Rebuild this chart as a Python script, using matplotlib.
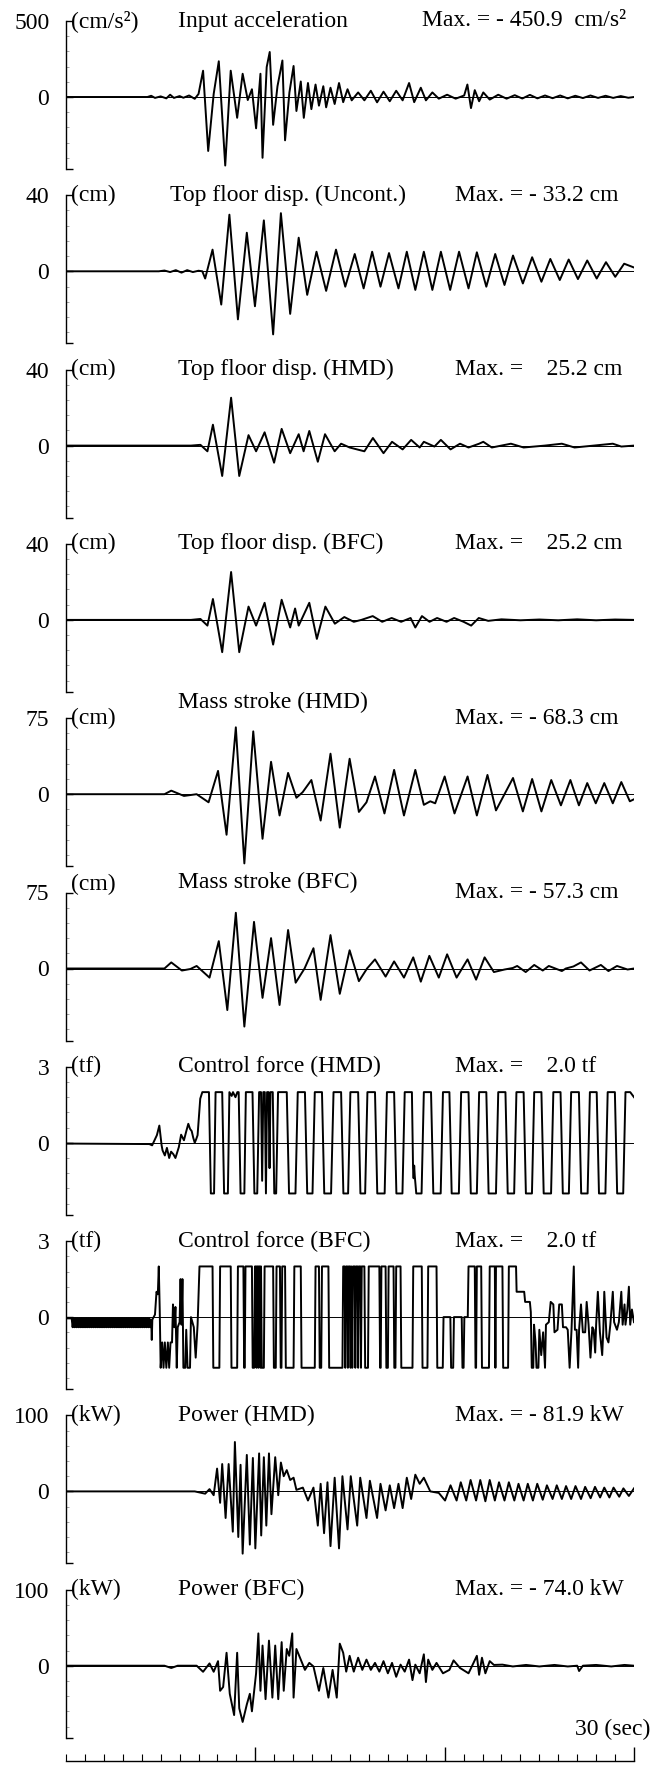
import matplotlib.pyplot as plt
from matplotlib.ticker import MultipleLocator

plt.rcParams['font.family'] = ['Liberation Serif', 'DejaVu Serif']

W, H = 657, 1773

# -------------------------------
# DATA (time in s)
# -------------------------------
t_acc = [0, 4.3, 4.5, 4.7, 5.0, 5.3, 5.5, 5.7, 6.0, 6.2,
         6.5, 6.8, 7.0, 7.24, 7.51, 7.8, 8.07, 8.41, 8.7, 9.04,
         9.33, 9.6, 9.82, 10.04, 10.27, 10.38, 10.6, 10.76, 10.94, 11.17,
         11.43, 11.57, 11.8, 12.02, 12.17, 12.4, 12.56, 12.78, 12.96, 13.18,
         13.36, 13.59, 13.74, 13.97, 14.19, 14.42, 14.64, 14.87, 15.09, 15.43,
         15.76, 16.1, 16.43, 16.77, 17.1, 17.44, 17.78, 18.12, 18.39, 18.74,
         19.01, 19.35, 19.69, 20.13, 20.58, 21.03, 21.2, 21.39, 21.59, 21.82,
         22.04, 22.38, 22.83, 23.27, 23.7, 24.1, 24.5, 24.9, 25.3, 25.7,
         26.1, 26.5, 26.9, 27.3, 27.7, 28.1, 28.5, 28.9, 29.3, 29.7, 30]
a_acc = [0, 0, 8, -6, 4, -9, 15, -6, 6, -5,
         10, -12, 20, 173, -355, 20, 235, -450.9, 173, -137,
         153, -20, 51, -206, 153, -400, 197, 296, -183, 71,
         240, -285, 30, 204, -92, 102, -137, 92, -80, 82,
         -57, 71, -68, 61, -46, 92, -34, 51, -22, 30,
         -22, 41, -35, 35, -28, 41, -22, 92, -34, 61,
         -22, 30, -11, 15, -11, 10, 82, -73, 45, -28,
         30, -17, 15, -11, 12, -10, 14, -9, 10, -8,
         10, -9, 8, -7, 10, -6, 8, -6, 6, -5, 0]

t_unc = [0, 4.9, 5.2, 5.5, 5.8, 6.1, 6.4, 6.7, 7.0, 7.2,
         7.35, 7.74, 8.2, 8.63, 9.08, 9.55, 9.98, 10.45, 10.94, 11.35,
         11.84, 12.29, 12.74, 13.23, 13.74, 14.26, 14.75, 15.25, 15.72, 16.17,
         16.61, 17.06, 17.56, 18.0, 18.45, 18.9, 19.35, 19.8, 20.29, 20.76,
         21.26, 21.7, 22.2, 22.67, 23.16, 23.61, 24.13, 24.62, 25.11, 25.58,
         26.08, 26.55, 27.04, 27.53, 28.03, 28.52, 29.01, 29.48, 30]
d_unc = [0, 0, 0.4, -0.4, 0.6, -0.7, 0.6, -0.4, 0.3, 0,
         -3.8, 11.4, -17.5, 29.8, -25.3, 20.3, -18.4, 26.8, -33.2, 30.6,
         -22.4, 17.7, -12.4, 10.3, -10.3, 11.4, -8.1, 9.1, -9.0, 10.3,
         -8.1, 9.6, -9.0, 10.3, -9.8, 10.3, -9.8, 10.3, -9.8, 10.3,
         -9.0, 10.0, -8.1, 9.1, -7.2, 8.3, -6.4, 7.4, -5.5, 6.5,
         -4.6, 6.2, -4.1, 5.7, -3.8, 4.8, -2.9, 4.0, 2.0]

t_dhmd = [0, 6.6, 7.1, 7.47, 7.76, 8.25, 8.72, 9.15, 9.64, 10.04,
          10.49, 10.99, 11.39, 11.84, 12.29, 12.55, 12.85, 13.3, 13.68, 14.19,
          14.53, 14.98, 15.76, 16.21, 16.77, 17.22, 17.78, 18.23, 18.68, 18.9,
          19.46, 19.8, 20.31, 20.81, 21.26, 21.82, 22.04, 22.49, 23.5, 24.17,
          25.29, 26.19, 26.86, 28.88, 29.33, 30]
d_dhmd = [0, 0, 0.4, -3, 11, -16, 25.2, -16, 5.5, -3,
          7, -9, 8.8, -4, 6, -3, 7.7, -8.5, 6, -3,
          1, -1, -3, 4, -4, 2, -2, 3, -1, 2,
          -0.5, 3, -2, 1, -1, 1, 2, -1, 1, -1,
          0, 1, -1, 1, -0.5, 0]

t_dbfc = [0, 6.6, 7.1, 7.47, 7.76, 8.25, 8.72, 9.15, 9.64, 10.04,
          10.49, 10.94, 11.39, 11.84, 12.1, 12.29, 12.85, 13.25, 13.7, 14.2,
          14.7, 15.2, 15.6, 16.2, 16.7, 17.2, 17.7, 18.2, 18.45, 18.8,
          19.2, 19.6, 20.1, 20.5, 21.0, 21.4, 21.8, 22.3, 23.0, 24.0,
          25.0, 26.0, 27.0, 28.0, 29.0, 30]
d_dbfc = [0, 0, 0.5, -3, 11, -17, 25.2, -17, 7, -3,
          9, -13, 10.6, -4, 6, -3, 9, -10, 7, -2,
          1.5, -1, 0, 2, -1, 1, -1, 1, -4, 2,
          -1, 1, -1, 1, -1, -3, 1, -0.5, 0.3, -0.2,
          0.2, -0.2, 0.3, -0.2, 0.2, 0]

t_shmd = [0, 5.2, 5.56, 6.23, 6.9, 7.53, 8.03, 8.48, 8.97, 9.42,
          9.89, 10.38, 10.83, 11.28, 11.73, 12.17, 12.5, 12.96, 13.45, 13.97,
          14.46, 14.98, 15.47, 15.87, 16.32, 16.82, 17.33, 17.85, 18.45, 18.9,
          19.24, 19.5, 20.0, 20.52, 21.21, 21.7, 22.26, 22.71, 23.16, 23.61,
          24.13, 24.62, 25.11, 25.63, 26.14, 26.64, 27.09, 27.53, 27.98, 28.43,
          28.88, 29.33, 29.78, 30]
s_shmd = [0, 0, 3.5, -1.7, 0, -8, 23, -40, 66, -68.3,
          62, -44, 32, -21, 21, -3.5, 2, 14, -26, 40,
          -33, 35, -17.5, -8, 17.5, -19, 24, -21, 24, -10.5,
          -7, -9, 17.5, -19, 17.5, -21, 19, -16, 0, 16,
          -17, 15, -17, 14, -11, 14, -11, 11, -9, 11,
          -9, 12, -7, -5]

t_sbfc = [0, 5.2, 5.56, 6.12, 6.57, 6.9, 7.58, 8.07, 8.52, 8.97,
          9.42, 9.93, 10.38, 10.83, 11.28, 11.73, 12.13, 12.6, 13.07, 13.45,
          13.97, 14.46, 14.98, 15.47, 15.9, 16.32, 16.88, 17.33, 17.85, 18.34,
          18.74, 19.19, 19.69, 20.13, 20.63, 21.21, 21.66, 22.11, 22.6, 23.16,
          23.6, 23.83, 24.28, 24.73, 25.18, 25.5, 26.19, 26.4, 26.8, 27.2,
          27.65, 28.25, 28.65, 29.1, 29.66, 30]
s_sbfc = [0, 0, 6, -2, -0.5, 2.5, -9, 27, -41, 55,
          -57.3, 46, -29, 30, -36, 38, -14, 0, 20, -31,
          33, -25, 18, -12.5, 0, 9, -8, 7, -9, 11,
          -13, 12.5, -9, 14, -9, 9, -11, 11, -3.5, -1,
          0.5, 2.5, -3.5, 3.5, -2, 2.5, -2.5, 0, 2, 6,
          -2, 3.5, -2.5, 2.5, -1, 0]

force_hmd = [(0, -0.03), (4.4, -0.05), (4.55, -0.1), (4.8, 0.3), (4.93, 0.68),
             (5.05, -0.1), (5.1, -0.3), (5.22, -0.5), (5.33, -0.2), (5.45, -0.6),
             (5.55, -0.35), (5.67, -0.45), (5.78, -0.6), (5.96, -0.17), (6.08, 0.32),
             (6.16, 0.2), (6.23, 0.1), (6.35, 0.45), (6.46, 0.75), (6.55, 0.55),
             (6.64, 0.46), (6.72, 0.2), (6.8, 0.0), (6.88, 0.15), (6.95, 0.3),
             (7.02, 1.0), (7.09, 1.74), (7.2, 2.0), (7.55, 2.0),
             (7.65, -2), (7.82, -2), (7.9, 2), (8.25, 2), (8.35, -2), (8.55, -2),
             (8.63, 2), (8.75, 1.85), (8.82, 2), (8.95, 1.8), (9.05, 2), (9.12, 2),
             (9.22, -2), (9.42, -2), (9.5, 2), (9.85, 2), (9.95, -2), (10.1, -2),
             (10.2, 2), (10.3, 2), (10.36, -1.5), (10.42, 2), (10.5, 2), (10.56, -2),
             (10.62, 2), (10.7, 2), (10.75, -1.0), (10.8, 2), (10.92, 2),
             (11.0, -2), (11.1, -2), (11.2, 2), (11.66, 2), (11.78, -2), (12.12, -2),
             (12.24, 2), (12.62, 2), (12.74, -2), (13.02, -2), (13.14, 2), (13.52, 2),
             (13.64, -2), (14.0, -2), (14.13, 2), (14.53, 2), (14.65, -2), (14.9, -2),
             (15.02, 2), (15.43, 2), (15.55, -2), (15.8, -2), (15.92, 2), (16.32, 2),
             (16.44, -2), (16.83, -2), (16.95, 2), (17.33, 2), (17.45, -2), (17.77, -2),
             (17.89, 2), (18.27, 2), (18.33, -1.0), (18.36, -1.4), (18.39, -0.9),
             (18.42, -1.3), (18.5, -2), (18.78, -2), (18.9, 2), (19.28, 2),
             (19.4, -2), (19.79, -2), (19.91, 2), (20.25, 2), (20.37, -2), (20.75, -2),
             (20.87, 2), (21.26, 2), (21.38, -2), (21.7, -2), (21.82, 2), (22.2, 2),
             (22.32, -2), (22.71, -2), (22.83, 2), (23.21, 2), (23.33, -2), (23.67, -2),
             (23.79, 2), (24.17, 2), (24.29, -2), (24.61, -2), (24.73, 2), (25.11, 2),
             (25.23, -2), (25.62, -2), (25.74, 2), (26.12, 2), (26.24, -2), (26.56, -2),
             (26.68, 2), (27.09, 2), (27.21, -2), (27.55, -2), (27.67, 2), (28.03, 2),
             (28.15, -2), (28.49, -2), (28.61, 2), (28.99, 2), (29.11, -2), (29.43, -2),
             (29.55, 2), (29.8, 2), (30, 1.8)]

# chattering band before the quake arrives
chatter_bfc = [(0, -0.05), (0.3, -0.05), (0.35, -0.4), (0.4, -0.05), (0.45, -0.4), (0.5, -0.05),
               (0.55, -0.4), (0.6, -0.05), (0.65, -0.4), (0.7, -0.05), (0.75, -0.4), (0.8, -0.05),
               (0.85, -0.4), (0.9, -0.05), (0.95, -0.4), (1.0, -0.05), (1.05, -0.4), (1.1, -0.05),
               (1.15, -0.4), (1.2, -0.05), (1.25, -0.4), (1.3, -0.05), (1.35, -0.4), (1.4, -0.05),
               (1.45, -0.4), (1.5, -0.05), (1.55, -0.4), (1.6, -0.05), (1.65, -0.4), (1.7, -0.05),
               (1.75, -0.4), (1.8, -0.05), (1.85, -0.4), (1.9, -0.05), (1.95, -0.4), (2.0, -0.05),
               (2.05, -0.4), (2.1, -0.05), (2.15, -0.4), (2.2, -0.05), (2.25, -0.4), (2.3, -0.05),
               (2.35, -0.4), (2.4, -0.05), (2.45, -0.4), (2.5, -0.05), (2.55, -0.4), (2.6, -0.05),
               (2.65, -0.4), (2.7, -0.05), (2.75, -0.4), (2.8, -0.05), (2.85, -0.4), (2.9, -0.05),
               (2.95, -0.4), (3.0, -0.05), (3.05, -0.4), (3.1, -0.05), (3.15, -0.4), (3.2, -0.05),
               (3.25, -0.4), (3.3, -0.05), (3.35, -0.4), (3.4, -0.05), (3.45, -0.4), (3.5, -0.05),
               (3.55, -0.4), (3.6, -0.05), (3.65, -0.4), (3.7, -0.05), (3.75, -0.4), (3.8, -0.05),
               (3.85, -0.4), (3.9, -0.05), (3.95, -0.4), (4.0, -0.05), (4.05, -0.4), (4.1, -0.05),
               (4.15, -0.4), (4.2, -0.05), (4.25, -0.4), (4.3, -0.05), (4.35, -0.4), (4.4, -0.05),
               (4.45, -0.4)]

force_bfc = [(4.5, -0.1), (4.53, -0.9), (4.56, -0.1), (4.7, 0.1), (4.78, 1.0),
             (4.85, 0.9), (4.9, 2.0), (4.95, 0.3), (5.0, -2.0), (5.08, -1.0), (5.15, -2.0),
             (5.22, -1.0), (5.3, -2.0), (5.38, -1.0), (5.45, -2.0), (5.52, -1.0), (5.6, -1.0),
             (5.65, 0.5), (5.72, -0.4), (5.78, 0.4), (5.85, -2.0), (5.9, -0.4), (6.0, -0.2),
             (6.05, 1.5), (6.1, -0.3), (6.15, 1.5), (6.2, -2.0), (6.3, -2.0), (6.35, -0.5),
             (6.42, -2.0), (6.55, -2.0), (6.6, 0.0), (6.75, -0.4), (6.85, -1.6), (6.95, -0.3),
             (7.05, 2.0), (7.74, 2), (7.78, -2), (8.1, -2), (8.14, 2), (8.7, 2), (8.74, -2),
             (9.04, -2), (9.08, 2), (9.37, 2), (9.41, -2), (9.44, -2), (9.48, 2), (9.82, 2),
             (9.86, -2), (9.94, -2), (9.98, 2), (10.03, 2), (10.06, -2), (10.09, 2), (10.13, 2),
             (10.16, -2), (10.19, 2), (10.24, 2), (10.27, -2), (10.3, 2), (10.34, -2),
             (10.45, -2), (10.49, 2), (10.94, 2), (10.98, -2), (11.08, -2), (11.12, 2),
             (11.3, 2), (11.34, -2), (11.38, -2), (11.42, 2), (11.57, 2), (11.61, -2),
             (12.02, -2), (12.06, 2), (12.4, 2), (12.44, -2), (13.14, -2), (13.18, 2),
             (13.36, 2), (13.4, -2), (13.48, -2), (13.52, 2), (13.86, 2), (13.9, -2),
             (14.6, -2), (14.64, 2), (14.72, 2), (14.75, -2), (14.8, 2), (14.86, 2),
             (14.89, -2), (14.93, 2), (15.0, 2), (15.03, -2), (15.07, 2), (15.12, -2),
             (15.16, 2), (15.25, 2), (15.28, -2), (15.32, 2), (15.4, 2), (15.43, -2),
             (15.47, 2), (15.55, 2), (15.58, -2), (15.62, 2), (15.76, 2), (15.8, -2),
             (15.95, -2), (15.99, 2), (16.55, 2), (16.59, -2), (16.62, -2), (16.66, 2),
             (16.88, 2), (16.92, -2), (17.0, -2), (17.04, 2), (17.3, 2), (17.34, -2),
             (17.4, -2), (17.44, 2), (17.67, 2), (17.71, -2), (18.3, -2), (18.34, 2),
             (18.79, 2), (18.83, -2), (19.09, -2), (19.13, 2), (19.57, 2), (19.61, -2),
             (19.9, -2), (19.94, 0.0), (20.3, 0.0), (20.34, -2), (20.45, -2), (20.49, 0.0),
             (20.9, 0.0), (20.94, -2), (21.0, -2), (21.04, 0.0), (21.22, 0.0), (21.26, 2),
             (21.59, 2), (21.63, -2), (21.66, -2), (21.7, 2), (21.93, 2), (21.97, -2),
             (22.34, -2), (22.38, 2), (22.65, 2), (22.68, -2), (22.71, 2), (23.05, 2),
             (23.09, -2), (23.35, -2), (23.39, 2), (23.77, 2), (23.8, 1.0), (24.2, 1.0),
             (24.25, 0.6), (24.5, 0.6), (24.55, 0.2), (24.6, -2), (24.68, -2), (24.72, -0.3),
             (24.8, -1.0), (24.85, -2.0), (24.95, -2.0), (25.0, -0.5), (25.1, -1.5),
             (25.2, -0.6), (25.3, -2.0), (25.35, -0.3), (25.5, -0.2), (25.6, 0.6),
             (25.74, 0.5), (25.8, -0.6), (25.96, -0.5), (26.05, 0.5), (26.19, 0.5),
             (26.25, -0.4), (26.41, -0.4), (26.5, -0.5), (26.6, -2.0), (26.7, -0.5),
             (26.82, 2.0), (26.88, -0.5), (26.97, -0.5), (27.05, -2.0), (27.1, -0.5),
             (27.2, 0.5), (27.3, -0.6), (27.42, -0.6), (27.5, 0.6), (27.6, -0.3),
             (27.7, -1.6), (27.8, -0.4), (27.87, -0.5), (27.95, -1.4), (28.0, -0.3),
             (28.09, 1.0), (28.2, -0.6), (28.32, -1.5), (28.38, -0.5), (28.43, 1.0),
             (28.55, -0.8), (28.65, -1.0), (28.75, -0.3), (28.88, 1.0), (28.95, -0.2),
             (29.1, -0.5), (29.2, -0.2), (29.33, 1.0), (29.4, -0.3), (29.5, 0.5),
             (29.55, -0.3), (29.65, 0.3), (29.73, 1.2), (29.8, -0.3), (29.89, 0.3), (30, -0.2)]

t_phmd = [0, 6.8, 7.35, 7.58, 7.8, 7.98, 8.14, 8.25, 8.43, 8.59,
          8.81, 8.92, 9.1, 9.22, 9.33, 9.55, 9.71, 9.87, 10.0, 10.2,
          10.31, 10.45, 10.58, 10.72, 10.85, 11.05, 11.21, 11.35, 11.5, 11.66,
          11.84, 12.02, 12.17, 12.51, 12.78, 13.07, 13.3, 13.45, 13.63, 13.81,
          13.97, 14.19, 14.42, 14.6, 14.87, 15.04, 15.38, 15.54, 15.87, 16.05,
          16.43, 16.61, 16.88, 17.1, 17.33, 17.56, 17.78, 18.0, 18.23, 18.45,
          18.68, 18.9, 19.24, 19.69, 20.02, 20.31, 20.63, 20.85, 21.14, 21.37,
          21.66, 21.88, 22.15, 22.38, 22.65, 22.87, 23.16, 23.39, 23.68, 23.9,
          24.17, 24.39, 24.66, 24.89, 25.18, 25.4, 25.7, 25.92, 26.19, 26.41,
          26.68, 26.91, 27.2, 27.42, 27.71, 27.94, 28.21, 28.43, 28.7, 28.92,
          29.22, 29.44, 29.73, 30]
p_phmd = [0, 0, -3, 3, -5, 30, -15, 36, -35, 36,
          -53, 65, -60, 35, -81.9, 48, -70, 44, -75, 50,
          -58, 45, -45, 50, -30, 45, -5, 38, 20, 28,
          15, 18, 2, 5, -12, 5, -45, 10, -55, 12,
          -72, 18, -75, 20, -50, 20, -45, 18, -35, 14,
          -35, 10, -25, 8, -22, 10, -22, 18, -10, 22,
          10, 18, 0, -2, -12, 8, -12, 12, -12, 15,
          -12, 15, -13, 15, -12, 12, -12, 12, -12, 10,
          -12, 10, -12, 10, -11, 8, -10, 8, -10, 7,
          -10, 7, -10, 6, -9, 6, -8, 5, -8, 5,
          -7, 4, -6, 4]

t_pbfc = [0, 5.2, 5.56, 5.9, 6.9, 7.24, 7.58, 7.8, 8.03, 8.14,
          8.3, 8.48, 8.65, 8.88, 9.04, 9.15, 9.33, 9.55, 9.71, 9.82,
          10.04, 10.16, 10.27, 10.38, 10.54, 10.72, 10.9, 11.05, 11.21, 11.39,
          11.5, 11.66, 11.79, 11.95, 12.02, 12.17, 12.4, 12.62, 12.85, 13.07,
          13.36, 13.59, 13.86, 14.08, 14.3, 14.46, 14.64, 14.8, 14.98, 15.2,
          15.43, 15.65, 15.87, 16.1, 16.32, 16.55, 16.77, 17.0, 17.22, 17.44,
          17.67, 17.89, 18.12, 18.3, 18.45, 18.68, 18.9, 19.01, 19.13, 19.35,
          19.57, 19.91, 20.25, 20.47, 20.81, 21.26, 21.48, 21.7, 21.82, 21.97,
          22.15, 22.38, 22.6, 23.05, 23.6, 24.3, 25.0, 25.8, 26.5, 27.0,
          27.1, 27.3, 28.0, 28.8, 29.5, 30]
p_pbfc = [0, 0, -3, 0, 0, -8, 3, -8, 6, -33,
          -28, 17, -37, -65, 17, -56, -74, -51, -37, -60,
          -10, 42.5, -33, 26.5, -44, 33, -42, 26.5, -44, 31,
          -33, 22, 13, 42.5, -42, 22, 8, -5.5, 3.7, -1,
          -33, -3, -42, -5.5, -42, 29, 17, -7.8, 13, -7.8,
          10.5, -5.5, 8, -5.5, 3.7, -7.8, 6, -10, 3.7, -14.6,
          1.4, -7.8, 8, -19, 1.4, -10, 15, -21.5, 8, -5.5,
          3.7, -10, -5.5, 7, -3, -10, 1.4, 13, -12, 10.5,
          -10, 6, 1, 1.4, -1, 1, -1, 1, -1, 0,
          -7, 0, 1, -1, 1, 0]

t_fhmd, f_fhmd = zip(*force_hmd)
t_fbfc, f_fbfc = zip(*(chatter_bfc + force_bfc))

y_tops = [500, 40, 40, 40, 75, 75, 3, 3, 100, 100]
units = ['(cm/s²)', '(cm)', '(cm)', '(cm)', '(cm)', '(cm)', '(tf)', '(tf)', '(kW)', '(kW)']
titles = ['Input acceleration', 'Top floor disp. (Uncont.)', 'Top floor disp. (HMD)',
          'Top floor disp. (BFC)', 'Mass stroke (HMD)', 'Mass stroke (BFC)',
          'Control force (HMD)', 'Control force (BFC)', 'Power (HMD)', 'Power (BFC)']
max_texts = ['Max. = - 450.9  cm/s²', 'Max. = - 33.2 cm', 'Max. =    25.2 cm',
             'Max. =    25.2 cm', 'Max. = - 68.3 cm', 'Max. = - 57.3 cm',
             'Max. =    2.0 tf', 'Max. =    2.0 tf', 'Max. = - 81.9 kW', 'Max. = - 74.0 kW']
series = [(t_acc, a_acc), (t_unc, d_unc), (t_dhmd, d_dhmd), (t_dbfc, d_dbfc),
          (t_shmd, s_shmd), (t_sbfc, s_sbfc), (t_fhmd, f_fhmd), (t_fbfc, f_fbfc),
          (t_phmd, p_phmd), (t_pbfc, p_pbfc)]

# -------------------------------
# LAYOUT (pixels)
# -------------------------------
X0, X1 = 66, 634
FS = 17
title_x = [178, 170, 178, 178, 178, 178, 178, 178, 178, 178]
title_dy = [0, 0, 0, 0, -16, -10, 0, 0, 0, 0]
unit_dy = [0, 0, 0, 0, 0, -8, 0, 0, 0, 0]
max_x = [422, 455, 455, 455, 455, 455, 455, 455, 455, 455]

fig = plt.figure(figsize=(W / 100, H / 100), dpi=100)


def ftext(x, y, s, **kw):
    fig.text(x / W, 1 - y / H, s, fontsize=FS, va='center', **kw)


for i, (t, v) in enumerate(series):
    zero_y = 97 + 174.3 * i
    y_top = zero_y - 76
    y_bot = zero_y + 72
    top = y_tops[i]
    low = -top * 72 / 76

    ax = fig.add_axes([X0 / W, 1 - y_bot / H, (X1 - X0) / W, (y_bot - y_top) / H])
    ax.patch.set_visible(False)
    ax.set_xlim(0, 30)
    ax.set_ylim(low, top)
    ax.axhline(0, color='black', lw=0.7)
    ax.plot(t, v, color='black', lw=1.4, solid_joinstyle='round')

    for s in ['top', 'right', 'bottom']:
        ax.spines[s].set_visible(False)
    ax.spines['left'].set_linewidth(1.0)
    ax.set_xticks([])
    ax.set_yticks([low, 0, top])
    ax.set_yticklabels(['', '0', str(top)])
    ax.tick_params(axis='y', direction='in', length=5, width=1.0, pad=12, labelsize=FS)
    ax.yaxis.set_minor_locator(MultipleLocator(top / 5))
    ax.tick_params(axis='y', which='minor', direction='in', length=2.5, width=0.5, color='0.5')

    ftext(X0 + 5, y_top + unit_dy[i], units[i])
    ftext(title_x[i], y_top + title_dy[i], titles[i])
    ftext(max_x[i], y_top, max_texts[i])

# time ruler at the bottom
axr = fig.add_axes([X0 / W, 1 - 1761 / H, (X1 - X0) / W, 20 / H])
axr.patch.set_visible(False)
axr.set_xlim(0, 30)
axr.set_yticks([])
for s in ['top', 'right', 'left']:
    axr.spines[s].set_visible(False)
axr.spines['bottom'].set_linewidth(1.0)
axr.set_xticks([10, 20, 30])
axr.set_xticklabels([])
axr.xaxis.set_minor_locator(MultipleLocator(1))
axr.tick_params(axis='x', which='major', direction='in', length=10, width=1.0)
axr.tick_params(axis='x', which='minor', direction='in', length=5, width=0.8)

ftext(650, 1729, '30 (sec)', ha='right')

fig.savefig('out.png', dpi=100)
